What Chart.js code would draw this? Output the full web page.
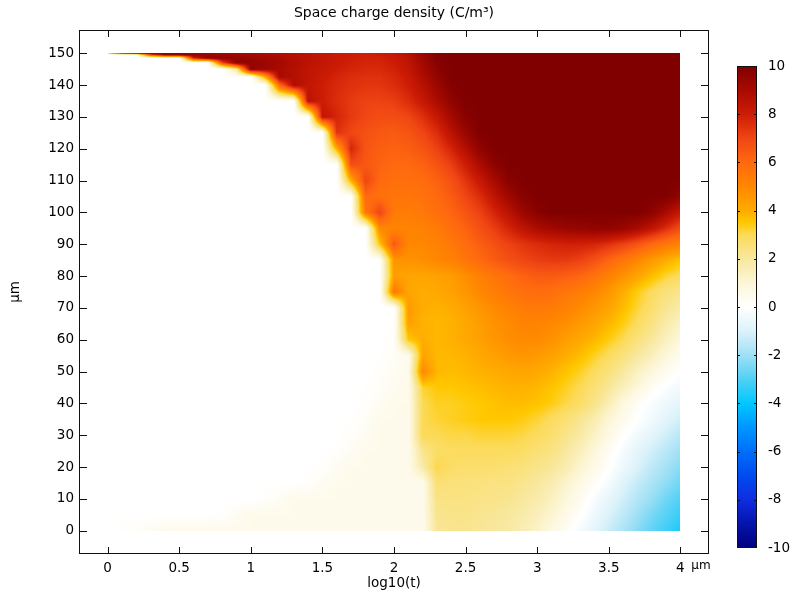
<!DOCTYPE html>
<html>
<head>
<meta charset="utf-8">
<script src="https://cdn.jsdelivr.net/npm/chart.js@4.4.1/dist/chart.umd.min.js"></script>
<style>
  html, body { margin: 0; padding: 0; background: #fff; }
  #wrap { position: relative; width: 793px; height: 595px; }
  #plot { position: absolute; left: 0; top: 0; }
  #cbar { position: absolute; left: 700px; top: 40px; }
</style>
</head>
<body>
<div id="wrap">
  <canvas id="plot" width="793" height="595"></canvas>
  <canvas id="cbar" width="93" height="530"></canvas>
</div>
<script>
// grid of the field: columns are log10(t), rows are depth in µm (finer near the top surface)
const xLevels = [0, 0.1, 0.2, 0.3, 0.4, 0.5, 0.6, 0.7, 0.8, 0.9, 1, 1.1, 1.2, 1.3, 1.4, 1.5, 1.6, 1.7, 1.8, 1.9,
                 2, 2.1, 2.2, 2.3, 2.4, 2.5, 2.6, 2.7, 2.8, 2.9, 3, 3.1, 3.2, 3.3, 3.4, 3.5, 3.6, 3.7, 3.8, 3.9, 4];
const yLevels = [0, 5, 10, 15, 20, 25, 30, 35, 40, 45, 50, 55, 60, 65, 70, 75, 80, 85, 90, 95, 100,
                 105, 110, 115, 120, 125, 130, 135, 140, 142.5, 145, 147, 148.5, 149.5, 150];

// space charge density (C/m^3), one row per entry of yLevels
const density = [
  [0, 0.1, 0.2, 0.3, 0.5, 0.5, 0.5, 0.5, 0.5, 0.5,  0.5, 0.5, 0.5, 0.5, 0.5, 0.5, 0.5, 0.5, 0.5, 0.5,  0.5, 0.5, 0.5, 2.1, 2.2, 2.2, 2.1, 2.0, 1.9, 1.6,  1.3, 0.8, 0.3, -0.3, -0.8, -1.3, -1.8, -2.3, -2.8, -3.2,  -3.7],
  [0, 0, 0, 0, 0, 0, 0, 0, 0.1, 0.3,  0.5, 0.5, 0.5, 0.5, 0.5, 0.5, 0.5, 0.5, 0.5, 0.5,  0.5, 0.5, 0.5, 2.2, 2.3, 2.3, 2.2, 2.1, 2.0, 1.8,  1.5, 1.1, 0.6, 0.1, -0.5, -1.0, -1.5, -2.0, -2.5, -2.9,  -3.3],
  [0, 0, 0, 0, 0, 0, 0, 0, 0, 0,  0, 0.1, 0.3, 0.5, 0.5, 0.5, 0.5, 0.5, 0.5, 0.5,  0.5, 0.5, 0.5, 2.4, 2.4, 2.4, 2.3, 2.3, 2.2, 2.0,  1.8, 1.4, 0.9, 0.4, -0.2, -0.7, -1.2, -1.7, -2.1, -2.6,  -3.0],
  [0, 0, 0, 0, 0, 0, 0, 0, 0, 0,  0, 0, 0, 0, 0.1, 0.3, 0.5, 0.5, 0.5, 0.5,  0.5, 0.5, 0.5, 2.6, 2.5, 2.5, 2.5, 2.4, 2.4, 2.2,  2.0, 1.7, 1.2, 0.7, 0.2, -0.3, -0.9, -1.4, -1.8, -2.2,  -2.6],
  [0, 0, 0, 0, 0, 0, 0, 0, 0, 0,  0, 0, 0, 0, 0, 0.1, 0.3, 0.5, 0.5, 0.5,  0.5, 0.5, 1.8, 3.1, 2.8, 2.7, 2.7, 2.7, 2.6, 2.5,  2.3, 2.1, 1.7, 1.1, 0.6, 0.1, -0.5, -1.0, -1.5, -1.9,  -2.3],
  [0, 0, 0, 0, 0, 0, 0, 0, 0, 0,  0, 0, 0, 0, 0, 0, 0.1, 0.3, 0.5, 0.5,  0.5, 0.5, 2.2, 2.8, 2.9, 2.9, 2.9, 2.9, 2.9, 2.8,  2.6, 2.4, 2.0, 1.5, 0.9, 0.3, -0.3, -0.8, -1.2, -1.6,  -2.0],
  [0, 0, 0, 0, 0, 0, 0, 0, 0, 0,  0, 0, 0, 0, 0, 0, 0, 0.15, 0.3, 0.5,  0.5, 0.5, 3.0, 3.0, 3.1, 3.1, 3.2, 3.2, 3.2, 3.1,  2.9, 2.7, 2.3, 1.9, 1.3, 0.7, 0.1, -0.4, -0.8, -1.2,  -1.6],
  [0, 0, 0, 0, 0, 0, 0, 0, 0, 0,  0, 0, 0, 0, 0, 0, 0, 0.05, 0.2, 0.5,  0.5, 0.5, 3.0, 3.2, 3.3, 3.4, 3.5, 3.5, 3.5, 3.4,  3.2, 2.9, 2.6, 2.2, 1.7, 1.0, 0.5, 0.0, -0.4, -0.8,  -1.2],
  [0, 0, 0, 0, 0, 0, 0, 0, 0, 0,  0, 0, 0, 0, 0, 0, 0, 0, 0.1, 0.3,  0.5, 0.5, 3.0, 3.3, 3.3, 3.4, 3.5, 3.6, 3.7, 3.7,  3.6, 3.4, 3.1, 2.8, 2.3, 1.6, 0.8, 0.25, -0.2, -0.5,  -0.8],
  [0, 0, 0, 0, 0, 0, 0, 0, 0, 0,  0, 0, 0, 0, 0, 0, 0, 0, 0.05, 0.2,  0.4, 0.5, 3.2, 3.5, 3.5, 3.6, 3.7, 3.8, 3.9, 3.9,  3.8, 3.6, 3.3, 3.0, 2.6, 2.1, 1.5, 0.9, 0.3, -0.1,  -0.4],
  [0, 0, 0, 0, 0, 0, 0, 0, 0, 0,  0, 0, 0, 0, 0, 0, 0, 0, 0, 0.1,  0.3, 0.5, 5.0, 3.8, 3.7, 3.8, 3.9, 4.0, 4.1, 4.2,  4.1, 3.9, 3.6, 3.3, 2.9, 2.5, 2.0, 1.4, 0.9, 0.4,  0.0],
  [0, 0, 0, 0, 0, 0, 0, 0, 0, 0,  0, 0, 0, 0, 0, 0, 0, 0, 0, 0.05,  0.2, 0.4, 4.2, 3.8, 3.8, 3.9, 4.1, 4.3, 4.5, 4.6,  4.5, 4.3, 4.0, 3.7, 3.3, 2.9, 2.5, 2.0, 1.5, 0.9,  0.4],
  [0, 0, 0, 0, 0, 0, 0, 0, 0, 0,  0, 0, 0, 0, 0, 0, 0, 0, 0, 0,  0.15, 3.5, 4.0, 3.8, 3.9, 4.1, 4.3, 4.6, 4.8, 4.9,  4.9, 4.7, 4.4, 4.1, 3.8, 3.4, 3.0, 2.5, 2.0, 1.4,  0.9],
  [0, 0, 0, 0, 0, 0, 0, 0, 0, 0,  0, 0, 0, 0, 0, 0, 0, 0, 0, 0,  0.05, 4.3, 3.9, 3.8, 3.9, 4.1, 4.4, 4.7, 4.9, 5.1,  5.1, 5.0, 4.8, 4.5, 4.2, 3.8, 3.4, 2.9, 2.4, 1.8,  1.3],
  [0, 0, 0, 0, 0, 0, 0, 0, 0, 0,  0, 0, 0, 0, 0, 0, 0, 0, 0, 0,  0, 4.5, 4.0, 3.9, 4.0, 4.3, 4.6, 4.9, 5.2, 5.4,  5.5, 5.4, 5.2, 4.9, 4.6, 4.2, 3.7, 3.2, 2.7, 2.2,  1.8],
  [0, 0, 0, 0, 0, 0, 0, 0, 0, 0,  0, 0, 0, 0, 0, 0, 0, 0, 0, 0,  5.5, 4.2, 4.0, 4.1, 4.3, 4.6, 5.0, 5.3, 5.6, 5.8,  5.9, 5.8, 5.6, 5.3, 5.0, 4.6, 4.0, 3.4, 2.9, 2.5,  2.2],
  [0, 0, 0, 0, 0, 0, 0, 0, 0, 0,  0, 0, 0, 0, 0, 0, 0, 0, 0, 0,  4.4, 4.2, 4.2, 4.3, 4.4, 4.8, 5.2, 5.6, 5.9, 6.2,  6.4, 6.4, 6.3, 6.1, 5.7, 5.2, 4.7, 4.2, 3.7, 3.2,  2.9],
  [0, 0, 0, 0, 0, 0, 0, 0, 0, 0,  0, 0, 0, 0, 0, 0, 0, 0, 0, 0,  4.6, 4.7, 4.8, 5.0, 5.2, 5.6, 6.0, 6.4, 6.7, 7.0,  7.2, 7.3, 7.3, 7.1, 6.7, 6.1, 5.6, 5.0, 4.5, 4.0,  3.6],
  [0, 0, 0, 0, 0, 0, 0, 0, 0, 0,  0, 0, 0, 0, 0, 0, 0, 0, 0, 3.5,  6.5, 5.0, 5.0, 5.2, 5.5, 5.9, 6.3, 6.7, 7.1, 7.4,  7.6, 7.8, 7.9, 7.9, 7.8, 7.5, 7.1, 6.6, 6.0, 5.5,  5.1],
  [0, 0, 0, 0, 0, 0, 0, 0, 0, 0,  0, 0, 0, 0, 0, 0, 0, 0, 0, 5.0,  5.1, 5.1, 5.2, 5.4, 5.8, 6.2, 6.7, 7.2, 7.8, 8.4,  8.9, 9.2, 9.4, 9.5, 9.6, 9.6, 9.4, 9.0, 8.4, 7.6,  6.8],
  [0, 0, 0, 0, 0, 0, 0, 0, 0, 0,  0, 0, 0, 0, 0, 0, 0, 0, 5.5, 7.0,  5.4, 5.4, 5.5, 5.8, 6.1, 6.6, 7.1, 7.8, 8.5, 9.3,  9.8, 10, 10, 10, 10, 10, 10, 10, 9.7, 9.0,  8.2],
  [0, 0, 0, 0, 0, 0, 0, 0, 0, 0,  0, 0, 0, 0, 0, 0, 0, 0, 6.0, 5.8,  5.6, 5.6, 5.7, 6.0, 6.4, 7.0, 7.6, 8.4, 9.2, 9.8,  10, 10, 10, 10, 10, 10, 10, 10, 10, 10,  9.6],
  [0, 0, 0, 0, 0, 0, 0, 0, 0, 0,  0, 0, 0, 0, 0, 0, 0, 4.0, 7.0, 6.0,  5.8, 5.8, 5.9, 6.2, 6.7, 7.4, 8.2, 9.0, 9.8, 10,  10, 10, 10, 10, 10, 10, 10, 10, 10, 10,  10],
  [0, 0, 0, 0, 0, 0, 0, 0, 0, 0,  0, 0, 0, 0, 0, 0, 0, 6.8, 6.5, 6.2,  6.0, 6.0, 6.2, 6.6, 7.2, 8.0, 8.9, 9.7, 10, 10,  10, 10, 10, 10, 10, 10, 10, 10, 10, 10,  10],
  [0, 0, 0, 0, 0, 0, 0, 0, 0, 0,  0, 0, 0, 0, 0, 0, 4.0, 7.8, 6.6, 6.3,  6.2, 6.3, 6.6, 7.1, 7.8, 8.7, 9.6, 10, 10, 10,  10, 10, 10, 10, 10, 10, 10, 10, 10, 10,  10],
  [0, 0, 0, 0, 0, 0, 0, 0, 0, 0,  0, 0, 0, 0, 0, 0, 7.5, 7.0, 6.7, 6.5,  6.4, 6.6, 7.0, 7.6, 8.5, 9.4, 10, 10, 10, 10,  10, 10, 10, 10, 10, 10, 10, 10, 10, 10,  10],
  [0, 0, 0, 0, 0, 0, 0, 0, 0, 0,  0, 0, 0, 0, 0, 8.3, 7.8, 7.3, 7.0, 6.8,  6.8, 7.0, 7.5, 8.2, 9.1, 9.8, 10, 10, 10, 10,  10, 10, 10, 10, 10, 10, 10, 10, 10, 10,  10],
  [0, 0, 0, 0, 0, 0, 0, 0, 0, 0,  0, 0, 0, 0, 8.5, 8.0, 7.6, 7.3, 7.1, 7.1,  7.2, 7.6, 8.2, 8.9, 9.6, 10, 10, 10, 10, 10,  10, 10, 10, 10, 10, 10, 10, 10, 10, 10,  10],
  [0, 0, 0, 0, 0, 0, 0, 0, 0, 0,  0, 0, 6.0, 8.8, 8.3, 8.0, 7.7, 7.5, 7.4, 7.4,  7.6, 8.0, 8.6, 9.3, 9.9, 10, 10, 10, 10, 10,  10, 10, 10, 10, 10, 10, 10, 10, 10, 10,  10],
  [0, 0, 0, 0, 0, 0, 0, 0, 0, 0,  0, 4.0, 9.0, 8.7, 8.4, 8.1, 7.8, 7.6, 7.5, 7.5,  7.7, 8.1, 8.8, 9.5, 10, 10, 10, 10, 10, 10,  10, 10, 10, 10, 10, 10, 10, 10, 10, 10,  10],
  [0, 0, 0, 0, 0, 0, 0, 0, 0, 2.0,  9.5, 9.3, 9.0, 8.7, 8.4, 8.2, 8.0, 7.8, 7.7, 7.7,  7.9, 8.3, 9.0, 9.7, 10, 10, 10, 10, 10, 10,  10, 10, 10, 10, 10, 10, 10, 10, 10, 10,  10],
  [0, 0, 0, 0, 0, 0, 0, 0, 7.0, 9.6,  9.5, 9.3, 9.1, 8.8, 8.5, 8.3, 8.1, 7.9, 7.8, 7.8,  8.0, 8.4, 9.1, 9.8, 10, 10, 10, 10, 10, 10,  10, 10, 10, 10, 10, 10, 10, 10, 10, 10,  10],
  [0, 0, 0, 0, 0, 0, 8.0, 9.6, 9.6, 9.5,  9.4, 9.2, 9.0, 8.7, 8.5, 8.3, 8.1, 8.0, 7.9, 7.9,  8.1, 8.5, 9.2, 9.9, 10, 10, 10, 10, 10, 10,  10, 10, 10, 10, 10, 10, 10, 10, 10, 10,  10],
  [0, 0, 0, 7.0, 9.5, 9.6, 9.5, 9.4, 9.3, 9.2,  9.1, 9.0, 8.8, 8.6, 8.5, 8.3, 8.1, 8.0, 7.9, 8.0,  8.2, 8.6, 9.3, 9.9, 10, 10, 10, 10, 10, 10,  10, 10, 10, 10, 10, 10, 10, 10, 10, 10,  10],
  [3, 8.5, 9.5, 9.6, 9.6, 9.5, 9.4, 9.3, 9.2, 9.1,  9.0, 8.9, 8.8, 8.6, 8.5, 8.3, 8.1, 8.0, 7.9, 8.0,  8.2, 8.6, 9.3, 9.9, 10, 10, 10, 10, 10, 10,  10, 10, 10, 10, 10, 10, 10, 10, 10, 10,  10]
];

const xTicks = [0, 0.5, 1, 1.5, 2, 2.5, 3, 3.5, 4];
const yTicks = [0, 10, 20, 30, 40, 50, 60, 70, 80, 90, 100, 110, 120, 130, 140, 150];
const cbarTicks = [-10, -8, -6, -4, -2, 0, 2, 4, 6, 8, 10];

// blue - white - yellow - red colour table
const cmapValues = [-10, -9, -8, -7, -6, -5, -4, -3, -2, -1, 0, 1, 2, 3, 3.5, 4, 5, 6, 7, 8, 9, 10];
const cmapColors = [
  [0, 0, 128], [5, 20, 170], [15, 45, 225], [0, 75, 240], [0, 110, 250], [0, 150, 255],
  [0, 200, 255], [80, 208, 245], [160, 224, 245], [220, 242, 250], [255, 255, 255],
  [252, 246, 215], [248, 232, 158], [252, 218, 88], [255, 200, 0], [255, 172, 0],
  [255, 135, 0], [255, 105, 15], [240, 70, 20], [205, 28, 5], [168, 10, 0], [128, 0, 0]
];

function colorFor(v) {
  const n = cmapValues.length - 1;
  if (v <= cmapValues[0]) return cmapColors[0];
  if (v >= cmapValues[n]) return cmapColors[n];
  let k = 0;
  while (cmapValues[k + 1] < v) k++;
  const t = (v - cmapValues[k]) / (cmapValues[k + 1] - cmapValues[k]);
  const a = cmapColors[k], b = cmapColors[k + 1];
  return [a[0] + (b[0] - a[0]) * t, a[1] + (b[1] - a[1]) * t, a[2] + (b[2] - a[2]) * t];
}

// index of the grid interval holding v, and the fraction across it
function locate(levels, v) {
  const n = levels.length;
  if (v <= levels[0]) return [0, 0];
  if (v >= levels[n - 1]) return [n - 2, 1];
  let k = 0;
  while (levels[k + 1] < v) k++;
  return [k, (v - levels[k]) / (levels[k + 1] - levels[k])];
}

const heatmapPlugin = {
  id: 'heatmap',
  beforeDatasetsDraw(chart) {
    const { ctx, scales: { x, y } } = chart;
    const left = Math.round(x.getPixelForValue(xLevels[0]));
    const right = Math.round(x.getPixelForValue(xLevels[xLevels.length - 1]));
    const top = Math.round(y.getPixelForValue(yLevels[yLevels.length - 1]));
    const bottom = Math.round(y.getPixelForValue(yLevels[0]));
    const w = right - left, h = bottom - top;
    const cols = [];
    for (let c = 0; c < w; c++) cols.push(locate(xLevels, x.getValueForPixel(left + c + 0.5)));
    const off = document.createElement('canvas');
    off.width = w; off.height = h;
    const octx = off.getContext('2d');
    const img = octx.createImageData(w, h);
    for (let r = 0; r < h; r++) {
      const [j, ty] = locate(yLevels, y.getValueForPixel(top + r + 0.5));
      const lo = density[j], hi = density[j + 1];
      for (let c = 0; c < w; c++) {
        const [i, tx] = cols[c];
        const v = (lo[i] * (1 - tx) + lo[i + 1] * tx) * (1 - ty) + (hi[i] * (1 - tx) + hi[i + 1] * tx) * ty;
        const col = colorFor(v);
        const p = (r * w + c) * 4;
        img.data[p] = col[0]; img.data[p + 1] = col[1]; img.data[p + 2] = col[2]; img.data[p + 3] = 255;
      }
    }
    octx.putImageData(img, 0, 0);
    ctx.drawImage(off, left, top);
  }
};

// box around the plot with inward ticks on all four sides, title and x unit
const framePlugin = {
  id: 'frame',
  afterDatasetsDraw(chart) {
    const { ctx, chartArea: a, scales: { x, y } } = chart;
    ctx.save();
    ctx.strokeStyle = '#111';
    ctx.lineWidth = 1;
    ctx.strokeRect(a.left + 0.5, a.top + 0.5, a.right - a.left - 1, a.bottom - a.top - 1);
    ctx.beginPath();
    x.ticks.forEach(t => {
      const px = Math.round(x.getPixelForValue(t.value)) + 0.5;
      ctx.moveTo(px, a.bottom); ctx.lineTo(px, a.bottom - 7);
      ctx.moveTo(px, a.top); ctx.lineTo(px, a.top + 7);
    });
    y.ticks.forEach(t => {
      const py = Math.round(y.getPixelForValue(t.value)) + 0.5;
      ctx.moveTo(a.left, py); ctx.lineTo(a.left + 8, py);
      ctx.moveTo(a.right, py); ctx.lineTo(a.right - 8, py);
    });
    ctx.stroke();
    ctx.fillStyle = '#000';
    ctx.textBaseline = 'middle';
    ctx.textAlign = 'center';
    ctx.font = '14px "DejaVu Sans"';
    ctx.fillText('Space charge density (C/m³)', (a.left + a.right) / 2, 13);
    ctx.font = '12px "DejaVu Sans"';
    ctx.textAlign = 'left';
    ctx.fillText('µm', x.getPixelForValue(xTicks[xTicks.length - 1]) + 11, a.bottom + 12);
    ctx.restore();
  }
};

Chart.defaults.font.family = 'DejaVu Sans';
Chart.defaults.font.size = 13.5;
Chart.defaults.color = '#000';

new Chart(document.getElementById('plot'), {
  type: 'scatter',
  data: { datasets: [{ data: [], pointRadius: 0 }] },
  options: {
    responsive: false,
    animation: false,
    layout: { padding: { left: 0, right: 84, top: 30, bottom: 0 } },
    plugins: {
      legend: { display: false },
      tooltip: { enabled: false },
      title: { display: false }
    },
    scales: {
      x: {
        type: 'linear', min: -0.2, max: 4.2,
        afterBuildTicks: s => { s.ticks = xTicks.map(v => ({ value: v })); },
        afterFit: s => { s.height = 41; },
        grid: { display: false, drawTicks: false },
        border: { display: false },
        ticks: { padding: 6, maxRotation: 0, autoSkip: false, callback: v => String(v) },
        title: { display: true, text: 'log10(t)', padding: { top: 0, bottom: 3 } }
      },
      y: {
        type: 'linear', min: -7.3, max: 157.3,
        afterBuildTicks: s => { s.ticks = yTicks.map(v => ({ value: v })); },
        afterFit: s => { s.width = 79; },
        grid: { display: false, drawTicks: false },
        border: { display: false },
        ticks: { padding: 5, autoSkip: false, callback: v => String(v) },
        title: { display: true, text: 'µm', padding: { top: 7, bottom: 0 } }
      }
    }
  },
  plugins: [heatmapPlugin, framePlugin]
});

// colour legend drawn on its own value scale
const cbarPlugin = {
  id: 'cbarFill',
  beforeDatasetsDraw(chart) {
    const { ctx, chartArea: a, scales: { y } } = chart;
    ctx.save();
    for (let py = Math.floor(a.top); py < Math.ceil(a.bottom); py++) {
      const c = colorFor(y.getValueForPixel(py + 0.5));
      ctx.fillStyle = `rgb(${Math.round(c[0])},${Math.round(c[1])},${Math.round(c[2])})`;
      ctx.fillRect(a.left, py, a.right - a.left, 1);
    }
    ctx.strokeStyle = '#111';
    ctx.lineWidth = 1;
    ctx.strokeRect(a.left + 0.5, a.top + 0.5, a.right - a.left - 1, a.bottom - a.top - 1);
    ctx.beginPath();
    y.ticks.forEach(t => {
      if (t.value <= y.min || t.value >= y.max) return;
      const py = Math.round(y.getPixelForValue(t.value)) + 0.5;
      ctx.moveTo(a.left, py); ctx.lineTo(a.left + 3, py);
      ctx.moveTo(a.right, py); ctx.lineTo(a.right - 3, py);
    });
    ctx.stroke();
    ctx.restore();
  }
};

new Chart(document.getElementById('cbar'), {
  type: 'scatter',
  data: { datasets: [{ data: [], pointRadius: 0 }] },
  options: {
    responsive: false,
    animation: false,
    layout: { padding: { left: 37, right: 0, top: 26, bottom: 22 } },
    plugins: { legend: { display: false }, tooltip: { enabled: false } },
    scales: {
      x: { display: false, min: 0, max: 1 },
      y: {
        position: 'right', min: -10, max: 10,
        afterBuildTicks: s => { s.ticks = cbarTicks.map(v => ({ value: v })); },
        afterFit: s => { s.width = 36; },
        grid: { display: false, drawTicks: false },
        border: { display: false },
        ticks: { padding: 11, autoSkip: false, callback: v => String(v) }
      }
    }
  },
  plugins: [cbarPlugin]
});
</script>
</body>
</html>
